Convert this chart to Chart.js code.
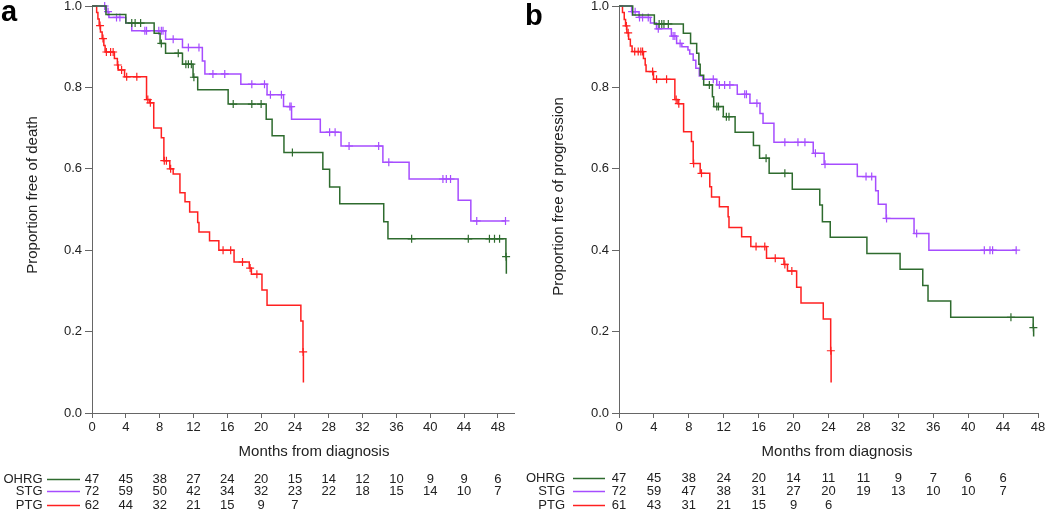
<!DOCTYPE html>
<html>
<head>
<meta charset="utf-8">
<script src="https://cdn.jsdelivr.net/npm/chart.js@4.4.0/dist/chart.umd.min.js"></script>
<style>
    html, body { margin: 0; padding: 0; background: #ffffff; }
    #wrap { position: relative; width: 1050px; height: 513px; }
    canvas { position: absolute; top: 0; }
</style>
</head>
<body>
<div id="wrap">
    <canvas id="km_death" width="520" height="513" style="left:0px"></canvas>
    <canvas id="km_prog" width="530" height="513" style="left:520px"></canvas>
</div>
<script>
// ---- data: [month, proportion] at each step ----
const xTicks = [0, 4, 8, 12, 16, 20, 24, 28, 32, 36, 40, 44, 48];
const yTicks = [0, 0.2, 0.4, 0.6, 0.8, 1.0];
const groups = ["OHRG", "STG", "PTG"];

// a: free of death
const death_ohrg = [[0,1],[1.65,0.979],[4.0,0.958],[7.35,0.933],[8.05,0.908],[8.7,0.884],[10.7,0.857],[11.95,0.825],[12.5,0.794],[16.1,0.759],[20.6,0.722],[21.3,0.681],[22.7,0.64],[27.3,0.599],[28.1,0.555],[29.3,0.514],[34.5,0.47],[35.0,0.428],[48.95,0.384],[49.0,0.342]];
const death_ohrg_cens = [4.7,5.1,5.75,8.2,10.2,11.1,11.4,11.75,12.05,16.7,18.9,20.0,23.7,37.8,44.5,47.0,47.6,48.2,48.97];
const death_stg = [[0,1],[1.7,0.986],[2.0,0.972],[4.0,0.958],[4.7,0.939],[8.7,0.918],[10.7,0.898],[13.05,0.865],[13.35,0.833],[17.6,0.808],[20.7,0.782],[22.65,0.753],[23.6,0.722],[27.0,0.69],[29.45,0.656],[34.4,0.616],[37.5,0.575],[43.3,0.523],[44.8,0.472],[48.9,0.472]];
const death_stg_cens = [1.5,1.9,2.9,3.3,6.25,6.45,7.9,8.2,8.4,9.6,11.4,12.65,14.3,15.7,18.9,20.4,21.1,22.4,23.4,23.55,28.1,28.75,30.4,33.9,35.1,41.5,41.9,42.4,45.5,48.9];
const death_ptg = [[0,1],[0.55,0.984],[0.7,0.968],[0.85,0.952],[1.0,0.936],[1.2,0.92],[1.4,0.903],[1.55,0.887],[2.65,0.871],[3.0,0.855],[3.1,0.843],[3.85,0.826],[6.45,0.77],[6.8,0.762],[7.3,0.70],[8.2,0.676],[8.5,0.62],[9.2,0.60],[9.6,0.587],[10.4,0.541],[11.0,0.519],[11.55,0.494],[12.5,0.468],[12.65,0.445],[13.9,0.423],[15.0,0.40],[16.8,0.371],[18.6,0.356],[18.85,0.341],[20.1,0.302],[20.7,0.265],[24.7,0.226],[24.95,0.15],[25.0,0.075]];
const death_ptg_cens = [0.95,1.3,1.7,2.2,2.5,3.05,3.5,4.1,5.3,6.6,6.9,8.55,8.8,9.3,15.5,16.4,17.8,18.7,19.5,24.97];
const death_risk_ohrg = [47, 45, 38, 27, 24, 20, 15, 14, 12, 10, 9, 9, 6];
const death_risk_stg = [72, 59, 50, 42, 34, 32, 23, 22, 18, 15, 14, 10, 7];
const death_risk_ptg = [62, 44, 32, 21, 15, 9, 7];

// b: free of progression
const prog_ohrg = [[0,1],[1.57,0.978],[4.05,0.956],[7.37,0.933],[8.2,0.908],[8.9,0.884],[9.15,0.857],[9.3,0.83],[9.7,0.806],[10.7,0.777],[10.85,0.753],[11.95,0.728],[13.3,0.69],[15.4,0.657],[16.1,0.626],[17.2,0.589],[19.85,0.55],[23.0,0.511],[23.3,0.47],[24.2,0.432],[28.4,0.392],[32.2,0.353],[34.8,0.313],[35.4,0.275],[38.0,0.235],[47.45,0.21],[47.5,0.188]];
const prog_ohrg_cens = [4.6,4.9,5.15,5.65,10.35,11.2,11.4,12.3,12.6,16.85,19.0,44.9,47.47];
const prog_stg = [[0,1],[1.45,0.986],[2.3,0.972],[3.6,0.958],[4.3,0.944],[6.0,0.926],[6.6,0.908],[7.2,0.9],[7.9,0.892],[8.1,0.882],[8.5,0.867],[8.8,0.847],[9.2,0.828],[9.6,0.82],[11.2,0.806],[13.55,0.783],[15.0,0.761],[16.15,0.736],[16.5,0.712],[17.75,0.665],[22.25,0.638],[23.5,0.611],[27.3,0.581],[29.4,0.546],[29.7,0.513],[30.6,0.478],[33.8,0.441],[35.5,0.40],[45.5,0.40]];
const prog_stg_cens = [1.5,1.85,2.35,2.7,3.35,4.5,6.2,6.4,7.0,10.8,11.5,12.1,12.7,14.4,14.6,15.8,19.0,20.5,21.3,22.5,23.6,28.3,28.95,30.65,34.1,41.85,42.5,42.8,45.5];
const prog_ptg = [[0,1],[0.4,0.984],[0.6,0.967],[0.75,0.951],[0.9,0.934],[1.1,0.918],[1.3,0.902],[1.5,0.888],[2.8,0.871],[3.0,0.855],[3.1,0.839],[3.95,0.82],[6.4,0.77],[6.75,0.76],[7.4,0.691],[8.3,0.667],[8.5,0.613],[9.3,0.589],[10.4,0.556],[10.6,0.531],[11.5,0.507],[12.5,0.482],[12.6,0.456],[14.05,0.433],[15.1,0.409],[16.9,0.38],[18.9,0.365],[19.3,0.349],[20.35,0.309],[20.85,0.27],[23.4,0.231],[24.25,0.153],[24.3,0.075]];
const prog_ptg_cens = [0.85,1.05,1.8,2.2,2.5,2.7,3.85,4.3,5.45,6.55,6.85,8.55,9.45,15.7,16.7,17.9,19.0,19.8,24.27];
const prog_risk_ohrg = [47, 45, 38, 24, 20, 14, 11, 11, 9, 7, 6, 6];
const prog_risk_stg = [72, 59, 47, 38, 31, 27, 20, 19, 13, 10, 10, 7];
const prog_risk_ptg = [61, 43, 31, 21, 15, 9, 6];

const COLORS = { OHRG: "#2e6b2e", STG: "#a64dff", PTG: "#ff2020" };
const FONT = "'Liberation Sans', Arial, sans-serif";
Chart.defaults.font.family = FONT;

// value of the step curve at time t
function survAt(steps, t){
    let v = steps[0][1];
    for(let i = 0; i < steps.length; i++){ if(steps[i][0] <= t){ v = steps[i][1]; } }
    return v;
}

function curveSet(steps, color){
    return {
        type: "line",
        data: steps.map((p) => { return { x: p[0], y: p[1] }; }),
        stepped: "before",
        borderColor: color,
        borderWidth: 1.5,
        pointRadius: 0,
        fill: false,
        clip: false,
    };
}

function censorSet(steps, times, color){
    return {
        type: "scatter",
        data: times.map((t) => { return { x: t, y: survAt(steps, t) }; }),
        pointStyle: "cross",
        pointRadius: 4,
        borderColor: color,
        borderWidth: 1.2,
        showLine: false,
        clip: false,
    };
}

// letter, axis titles, legend lines and numbers at risk
const extras = {
    id: "extras",
    afterDraw(chart, args, o){
        const ctx = chart.ctx, xs = chart.scales.x;
        ctx.save();
        ctx.fillStyle = "#000";
        ctx.font = `bold 29px ${FONT}`;
        ctx.textAlign = "left";
        ctx.textBaseline = "alphabetic";
        ctx.fillText(o.letter, o.letterX, o.letterY);

        ctx.fillStyle = "#222";
        ctx.font = `15px ${FONT}`;
        ctx.textAlign = "center";
        ctx.textBaseline = "middle";
        ctx.fillText("Months from diagnosis", o.xTitleX, 452);
        ctx.save();
        ctx.translate(o.yTitleX, o.yTitleY);
        ctx.rotate(-Math.PI / 2);
        ctx.fillText(o.yTitle, 0, 0);
        ctx.restore();

        ctx.font = `13px ${FONT}`;
        o.rows.forEach((r) => {
            ctx.fillStyle = "#222";
            ctx.textAlign = "right";
            ctx.fillText(r.name, o.labelRight, r.y);
            ctx.strokeStyle = COLORS[r.name];
            ctx.lineWidth = 1.5;
            ctx.beginPath();
            ctx.moveTo(o.lineFrom, r.y + 0.5);
            ctx.lineTo(o.lineTo, r.y + 0.5);
            ctx.stroke();
            ctx.textAlign = "center";
            r.counts.forEach((n, i) => {
                ctx.fillText(String(n), xs.getPixelForValue(xTicks[i]), r.y);
            });
        });
        ctx.restore();
    },
};

function makeChart(canvasID, sets, cfg){
    let datasets = [];
    sets.forEach((s) => {
        datasets.push(curveSet(s.steps, COLORS[s.name]));
        datasets.push(censorSet(s.steps, s.cens, COLORS[s.name]));
    });

    return new Chart(canvasID, {
        type: "line",
        data: { datasets: datasets },
        plugins: [extras],
        options: {
            responsive: false,
            animation: false,
            events: [],
            layout: { padding: { left: 0, top: 6, right: cfg.padRight, bottom: 0 } },
            plugins: {
                legend: { display: false },
                tooltip: { enabled: false },
                extras: cfg.extras,
            },
            scales: {
                x: {
                    type: "linear",
                    min: 0,
                    max: cfg.xMax,
                    afterBuildTicks: (s) => { s.ticks = xTicks.map((v) => { return { value: v }; }); },
                    afterFit: (s) => { s.height = 100; s.paddingLeft = 0; s.paddingRight = 0; },
                    grid: { drawOnChartArea: false, tickLength: 5, tickColor: "#666", tickWidth: 1 },
                    border: { color: "#666", width: 1 },
                    ticks: { color: "#222", font: { size: 13 }, padding: 2, maxRotation: 0, autoSkip: false },
                },
                y: {
                    type: "linear",
                    min: 0,
                    max: 1,
                    afterBuildTicks: (s) => { s.ticks = yTicks.map((v) => { return { value: v }; }); },
                    afterFit: (s) => { s.width = cfg.yWidth; s.paddingTop = 0; s.paddingBottom = 0; },
                    grid: { drawOnChartArea: false, tickLength: 7, tickColor: "#666", tickWidth: 1 },
                    border: { color: "#666", width: 1 },
                    ticks: { color: "#222", font: { size: 13 }, padding: 3, autoSkip: false,
                             callback: (v) => { return Number(v).toFixed(1); } },
                },
            },
        },
    });
}

makeChart("km_death", [
    { name: "OHRG", steps: death_ohrg, cens: death_ohrg_cens },
    { name: "STG", steps: death_stg, cens: death_stg_cens },
    { name: "PTG", steps: death_ptg, cens: death_ptg_cens },
], {
    xMax: 50, padRight: 4, yWidth: 92,
    extras: {
        letter: "a", letterX: 1, letterY: 21,
        yTitle: "Proportion free of death", yTitleX: 32.5, yTitleY: 195,
        xTitleX: 314,
        labelRight: 42.5, lineFrom: 47, lineTo: 80,
        rows: [
            { name: groups[0], y: 479, counts: death_risk_ohrg },
            { name: groups[1], y: 491, counts: death_risk_stg },
            { name: groups[2], y: 505, counts: death_risk_ptg },
        ],
    },
});

makeChart("km_prog", [
    { name: "OHRG", steps: prog_ohrg, cens: prog_ohrg_cens },
    { name: "STG", steps: prog_stg, cens: prog_stg_cens },
    { name: "PTG", steps: prog_ptg, cens: prog_ptg_cens },
], {
    xMax: 48, padRight: 12, yWidth: 99,
    extras: {
        letter: "b", letterX: 5, letterY: 25,
        yTitle: "Proportion free of progression", yTitleX: 39, yTitleY: 196.5,
        xTitleX: 317,
        labelRight: 45, lineFrom: 53, lineTo: 85,
        rows: [
            { name: groups[0], y: 478, counts: prog_risk_ohrg },
            { name: groups[1], y: 491, counts: prog_risk_stg },
            { name: groups[2], y: 505, counts: prog_risk_ptg },
        ],
    },
});
</script>
</body>
</html>
